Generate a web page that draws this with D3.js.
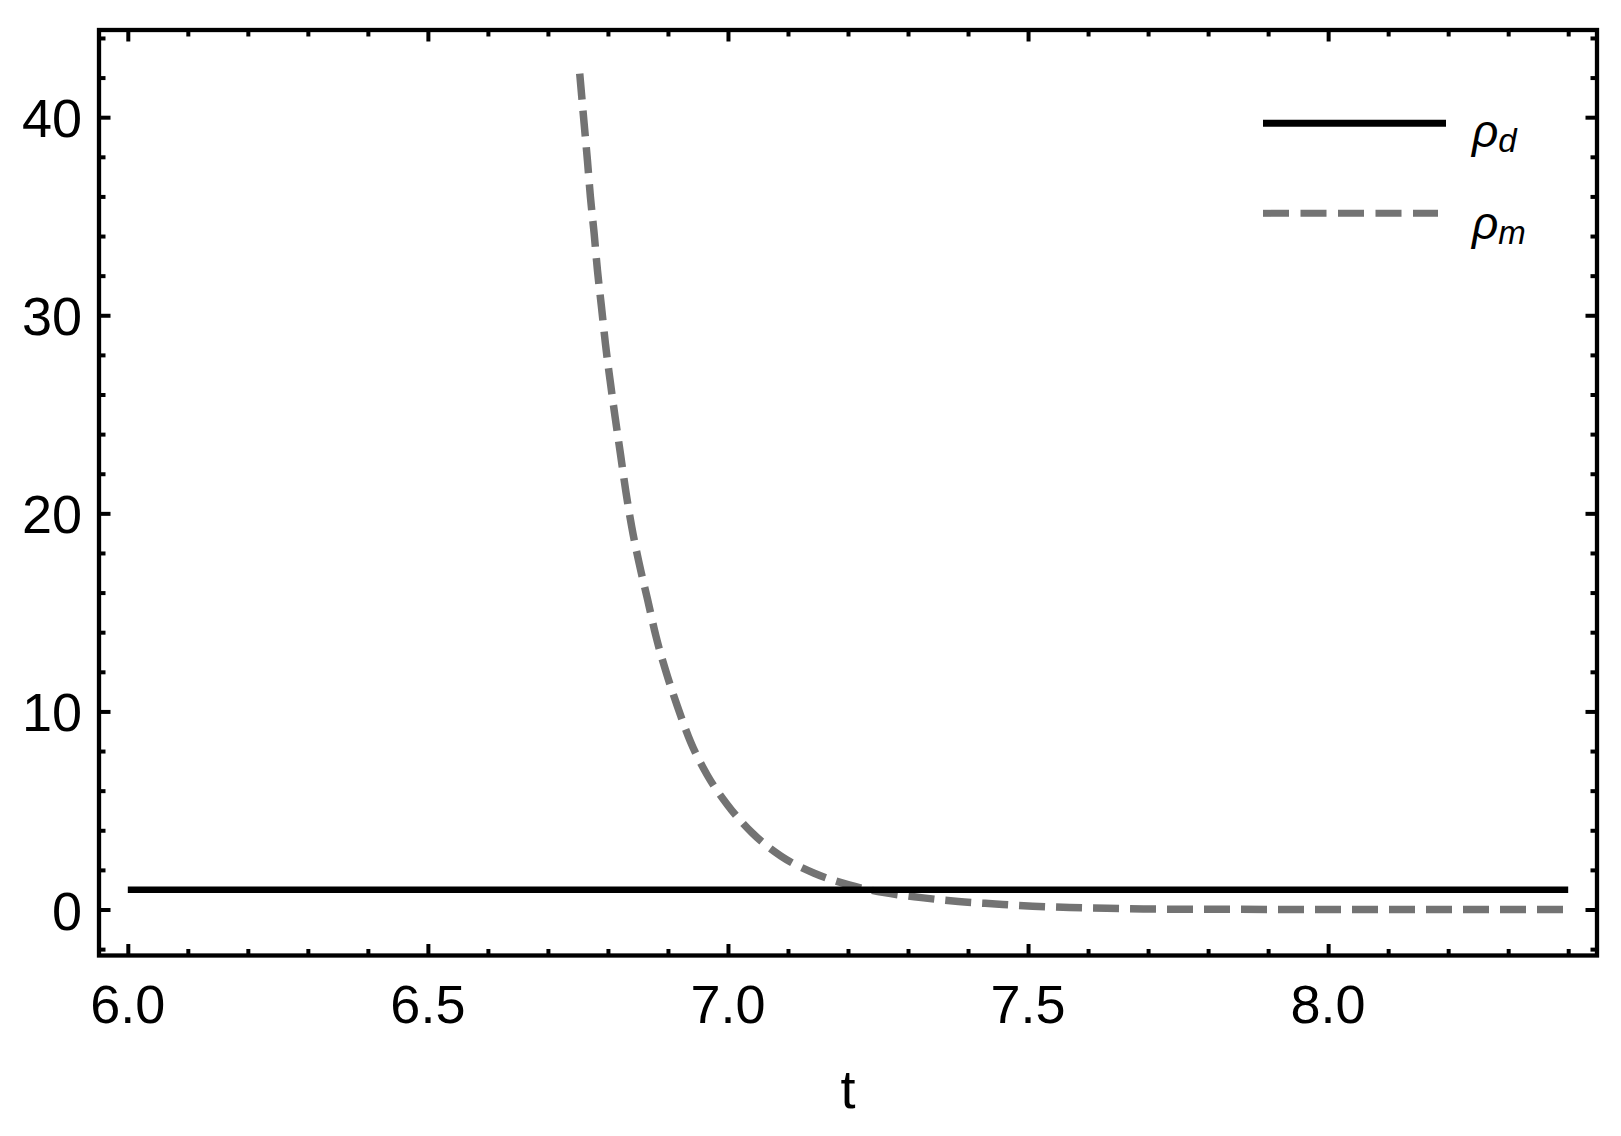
<!DOCTYPE html>
<html>
<head>
<meta charset="utf-8">
<script src="https://cdn.jsdelivr.net/npm/d3@7"></script>
<style>
  html, body { margin: 0; padding: 0; background: #fff; }
  svg { display: block; }
  text { font-family: "Liberation Sans", Arial, sans-serif; fill: #000; }
</style>
</head>
<body>
<svg id="chart" width="1621" height="1136"></svg>
<script>
// ---- data ----
const rhoD_t = [6.0, 8.4];
const rhoD_v = [1.0, 1.0];

const rhoM_t = [6.753, 6.7603, 6.7658, 6.7708, 6.777, 6.7825, 6.7892, 6.7959, 6.8037, 6.812, 6.8209, 6.8299, 6.8398, 6.852, 6.866, 6.8799, 6.8966, 6.916, 6.9376, 6.9654, 6.9993, 7.041, 7.0883, 7.1438, 7.2017, 7.2605, 7.3222, 7.3839, 7.4461, 7.5078, 7.5695, 7.6307, 7.6924, 7.7546, 7.9, 8.1, 8.4];
const rhoM_v = [42.2, 39.69, 37.83, 35.98, 34.13, 32.28, 30.43, 28.54, 26.69, 24.85, 22.99, 21.09, 19.29, 17.48, 15.66, 13.81, 12.02, 10.24, 8.47, 6.79, 5.28, 3.85, 2.70, 1.83, 1.24, 0.85, 0.60, 0.40, 0.28, 0.17, 0.10, 0.06, 0.03, 0.015, 0.005, 0.0, 0.0];

const xMajorTicks = [6.0, 6.5, 7.0, 7.5, 8.0];
const xTickLabels = ["6.0", "6.5", "7.0", "7.5", "8.0"];
const xMinorTicks = [6.1,6.2,6.3,6.4,6.6,6.7,6.8,6.9,7.1,7.2,7.3,7.4,7.6,7.7,7.8,7.9,8.1,8.2,8.3,8.4];
const yMajorTicks = [0, 10, 20, 30, 40];
const yTickLabels = ["0", "10", "20", "30", "40"];
const yMinorTicks = [-2,2,4,6,8,12,14,16,18,22,24,26,28,32,34,36,38,42,44];

const legendNames = [["ρ", "d"], ["ρ", "m"]];
const axisLabel = "t";

// ---- layout ----
const L = 99, R = 1597, T = 30, B = 955.5;
const svg = d3.select("#chart");
const x = d3.scaleLinear().domain([5.952, 8.448]).range([L, R]);
const y = d3.scaleLinear().domain([-2.322, 44.402]).range([B, T]);

const majorLen = 11.5, minorLen = 6.5, tickW = 4;

function drawTicks(axisFn, scale, values, len, transform) {
  const g = svg.append("g").attr("transform", transform)
    .call(axisFn(scale).tickValues(values).tickSize(-len).tickFormat(""));
  g.select(".domain").remove();
  g.selectAll(".tick line").attr("stroke", "#000").attr("stroke-width", tickW);
  g.selectAll(".tick text").remove();
  return g;
}
// bottom & top
drawTicks(d3.axisBottom, x, xMajorTicks, majorLen, `translate(0,${B})`);
drawTicks(d3.axisBottom, x, xMinorTicks, minorLen, `translate(0,${B})`);
drawTicks(d3.axisTop, x, xMajorTicks, majorLen, `translate(0,${T})`);
drawTicks(d3.axisTop, x, xMinorTicks, minorLen, `translate(0,${T})`);
// left & right
drawTicks(d3.axisLeft, y, yMajorTicks, majorLen, `translate(${L},0)`);
drawTicks(d3.axisLeft, y, yMinorTicks, minorLen, `translate(${L},0)`);
drawTicks(d3.axisRight, y, yMajorTicks, majorLen, `translate(${R},0)`);
drawTicks(d3.axisRight, y, yMinorTicks, minorLen, `translate(${R},0)`);

// tick labels
svg.append("g").selectAll("text").data(xMajorTicks).join("text")
  .attr("x", d => x(d)).attr("y", 1023)
  .attr("text-anchor", "middle").attr("font-size", 54)
  .text((d, i) => xTickLabels[i]);
svg.append("g").selectAll("text").data(yMajorTicks).join("text")
  .attr("x", 82).attr("y", d => y(d) + 20)
  .attr("text-anchor", "end").attr("font-size", 54)
  .text((d, i) => yTickLabels[i]);

// axis label
svg.append("text").attr("x", (L + R) / 2).attr("y", 1108)
  .attr("text-anchor", "middle").attr("font-size", 54).text(axisLabel);

// clip
svg.append("clipPath").attr("id", "clip").append("rect")
  .attr("x", L).attr("y", T).attr("width", R - L).attr("height", B - T);

const line = d3.line().x(d => x(d[0])).y(d => y(d[1]));
const lineSmooth = d3.line().x(d => x(d[0])).y(d => y(d[1])).curve(d3.curveMonotoneX);

svg.append("path")
  .datum(rhoM_t.map((t, i) => [t, rhoM_v[i]]))
  .attr("clip-path", "url(#clip)")
  .attr("d", lineSmooth)
  .attr("fill", "none").attr("stroke", "#737373")
  .attr("stroke-width", 7.5).attr("stroke-dasharray", "26,11");

svg.append("path")
  .datum(rhoD_t.map((t, i) => [t, rhoD_v[i]]))
  .attr("clip-path", "url(#clip)")
  .attr("d", line)
  .attr("fill", "none").attr("stroke", "#000").attr("stroke-width", 6.5);

// frame
svg.append("rect").attr("x", L).attr("y", T).attr("width", R - L).attr("height", B - T)
  .attr("fill", "none").attr("stroke", "#000").attr("stroke-width", 4.3);

// legend
const leg = svg.append("g");
leg.append("line").attr("x1", 1263).attr("x2", 1446).attr("y1", 123.3).attr("y2", 123.3)
  .attr("stroke", "#000").attr("stroke-width", 7);
leg.append("line").attr("x1", 1263).attr("x2", 1438).attr("y1", 213.3).attr("y2", 213.3)
  .attr("stroke", "#737373").attr("stroke-width", 7).attr("stroke-dasharray", "26,11.5");
const legY = [147, 239];
legendNames.forEach((n, i) => {
  const t = leg.append("text").attr("x", 1472).attr("y", legY[i])
    .attr("font-size", 46).attr("font-style", "italic");
  t.append("tspan").text(n[0]);
  t.append("tspan").attr("font-size", 33).attr("dy", 5).text(n[1]);
});
</script>
</body>
</html>
